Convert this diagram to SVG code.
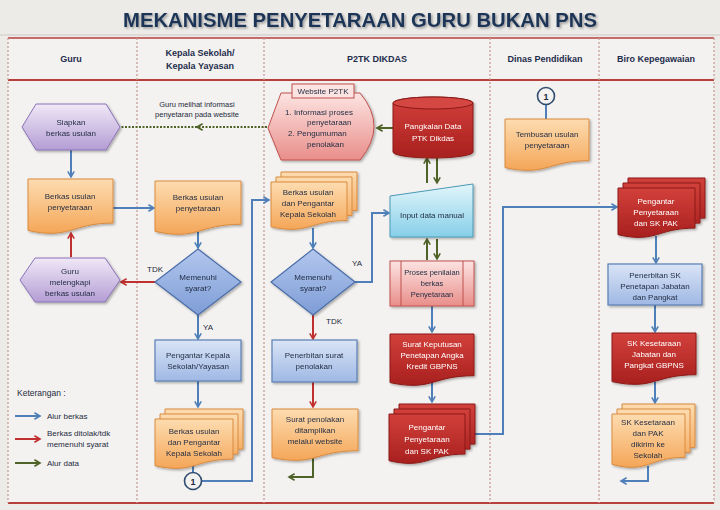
<svg xmlns="http://www.w3.org/2000/svg" width="720" height="510" viewBox="0 0 720 510">
<defs>
<style>
.t{font-family:"Liberation Sans",Arial,sans-serif;font-size:8px;fill:#1f2a40;text-anchor:middle}
.s{text-anchor:start}
.w{fill:#ffffff}
.h{font-family:"Liberation Sans",Arial,sans-serif;font-size:9px;font-weight:bold;fill:#1f2d4d;text-anchor:middle}
.div{stroke:#c79f96;stroke-width:1.3;stroke-dasharray:2 2;fill:none}
.org{fill:url(#gO);stroke:#d98a3e;stroke-width:1}
.pur{fill:url(#gP);stroke:#8b72b8;stroke-width:1}
.blu{fill:url(#gB);stroke:#5a7fb5;stroke-width:1.2}
.dia{fill:url(#gD);stroke:#4a6da8;stroke-width:1.2}
.pnk{fill:url(#gK);stroke:#c0504d;stroke-width:1}
.red{fill:url(#gR);stroke:#8a1a18;stroke-width:1}
.cyn{fill:url(#gC);stroke:#4a98b6;stroke-width:1}
.cb{fill:none;stroke:#4f7fb8;stroke-width:2}
.cr{fill:none;stroke:#c0302e;stroke-width:2}
.cg{fill:none;stroke:#4f6228;stroke-width:2}
</style>
<linearGradient id="gO" x1="0" y1="0" x2="0" y2="1"><stop offset="0" stop-color="#fddcb0"/><stop offset="1" stop-color="#f4a658"/></linearGradient>
<linearGradient id="gP" x1="0" y1="0" x2="0" y2="1"><stop offset="0" stop-color="#f0e8f7"/><stop offset="1" stop-color="#b49dd4"/></linearGradient>
<linearGradient id="gB" x1="0" y1="0" x2="0" y2="1"><stop offset="0" stop-color="#d9e4f6"/><stop offset="1" stop-color="#9fb8e4"/></linearGradient>
<linearGradient id="gD" x1="0" y1="0" x2="0" y2="1"><stop offset="0" stop-color="#b3c7ee"/><stop offset="1" stop-color="#7e9dd6"/></linearGradient>
<linearGradient id="gK" x1="0" y1="0" x2="0" y2="1"><stop offset="0" stop-color="#fce4e2"/><stop offset="1" stop-color="#e98e8a"/></linearGradient>
<linearGradient id="gR" x1="0" y1="0" x2="0" y2="1"><stop offset="0" stop-color="#d2403b"/><stop offset="1" stop-color="#a8201e"/></linearGradient>
<linearGradient id="gC" x1="0" y1="0" x2="0" y2="1"><stop offset="0" stop-color="#e2f5fb"/><stop offset="1" stop-color="#86cfe8"/></linearGradient>
<filter id="sh" x="-15%" y="-15%" width="140%" height="145%"><feDropShadow dx="1.5" dy="1.5" stdDeviation="1.2" flood-color="#000" flood-opacity="0.3"/></filter>
<filter id="tsh" x="-5%" y="-20%" width="110%" height="160%"><feDropShadow dx="1.5" dy="1.5" stdDeviation="1" flood-color="#000" flood-opacity="0.35"/></filter>
<marker id="ab" viewBox="0 0 10 10" refX="8" refY="5" markerWidth="8" markerHeight="8" orient="auto" markerUnits="userSpaceOnUse"><path d="M1,1 L8,5 L1,9" fill="none" stroke="#4f7fb8" stroke-width="2"/></marker>
<marker id="ar" viewBox="0 0 10 10" refX="8" refY="5" markerWidth="8" markerHeight="8" orient="auto" markerUnits="userSpaceOnUse"><path d="M1,1 L8,5 L1,9" fill="none" stroke="#c0302e" stroke-width="2"/></marker>
<marker id="ag" viewBox="0 0 10 10" refX="8" refY="5" markerWidth="8" markerHeight="8" orient="auto" markerUnits="userSpaceOnUse"><path d="M1,1 L8,5 L1,9" fill="none" stroke="#4f6228" stroke-width="2"/></marker>
</defs>

<rect x="0" y="0" width="720" height="510" fill="#ecebe8"/>
<rect x="8" y="38" width="706" height="465" fill="#f3f2f0"/>

<text x="360" y="27" class="h" style="font-size:21px;fill:#1d3557" textLength="474" lengthAdjust="spacingAndGlyphs" filter="url(#tsh)">MEKANISME PENYETARAAN GURU BUKAN PNS</text>

<g id="lanes">
<line x1="0" y1="35" x2="720" y2="35" stroke="#cfcac6" stroke-width="1"/>
<line x1="8" y1="38" x2="714" y2="38" stroke="#b5403c" stroke-width="1.5"/>
<line x1="8" y1="80" x2="714" y2="80" stroke="#b5403c" stroke-width="2"/>
<line x1="8" y1="503" x2="714" y2="503" stroke="#b5403c" stroke-width="2"/>
<line class="div" x1="8" y1="38" x2="8" y2="503"/>
<line class="div" x1="137" y1="38" x2="137" y2="503"/>
<line class="div" x1="264" y1="38" x2="264" y2="503"/>
<line class="div" x1="490" y1="38" x2="490" y2="503"/>
<line class="div" x1="599" y1="38" x2="599" y2="503"/>
<line class="div" x1="714" y1="38" x2="714" y2="503"/>
<text class="h" x="71" y="62">Guru</text>
<text class="h" x="200" y="56">Kepala Sekolah/</text>
<text class="h" x="200" y="69">Kepala Yayasan</text>
<text class="h" x="377" y="62">P2TK DIKDAS</text>
<text class="h" x="545" y="62">Dinas Pendidikan</text>
<text class="h" x="656" y="62">Biro Kepegawaian</text>
</g>

<g id="connectors">
<path class="cg" d="M267,127 L197,127 L121,127" stroke-width="1.6" stroke-dasharray="2 1.5" marker-mid="url(#ag)"/>
<path class="cb" d="M71,150 V177" marker-end="url(#ab)"/>
<path class="cb" d="M113,208 H154" marker-end="url(#ab)"/>
<path class="cr" d="M71,257 V233" marker-end="url(#ar)"/>
<path class="cr" d="M156,282 H121" marker-end="url(#ar)"/>
<path class="cb" d="M198,232 V248" marker-end="url(#ab)"/>
<path class="cb" d="M198,315 V339" marker-end="url(#ab)"/>
<path class="cb" d="M198,381 V407" marker-end="url(#ab)"/>
<path class="cb" d="M193,465 V472"/>
<path class="cb" d="M202,481 H252 V200 H269" marker-end="url(#ab)"/>
<path class="cb" d="M313,228 V248" marker-end="url(#ab)"/>
<path class="cb" d="M355,282 H372 V213 H389" marker-end="url(#ab)"/>
<path class="cr" d="M313,315 V339" marker-end="url(#ar)"/>
<path class="cr" d="M313,382 V407" marker-end="url(#ar)"/>
<path class="cg" d="M313,458 V477 H289" marker-end="url(#ag)"/>
<path class="cg" d="M393,128 H377" marker-end="url(#ag)"/>
<path class="cg" d="M427,183 V158" marker-end="url(#ag)"/>
<path class="cg" d="M437,158 V183" marker-end="url(#ag)"/>
<path class="cg" d="M427,260 V239" marker-end="url(#ag)"/>
<path class="cg" d="M437,239 V259" marker-end="url(#ag)"/>
<path class="cb" d="M432,306 V332" marker-end="url(#ab)"/>
<path class="cb" d="M432,382 V402" marker-end="url(#ab)"/>
<path class="cb" d="M475,434 H503 V207 H617" marker-end="url(#ab)"/>
<path class="cb" d="M546,105 V119"/>
<path class="cb" d="M656,236 V263" marker-end="url(#ab)"/>
<path class="cb" d="M655,305 V332" marker-end="url(#ab)"/>
<path class="cb" d="M655,382 V403" marker-end="url(#ab)"/>
<path class="cb" d="M648,466 V481 H621" marker-end="url(#ab)"/>
</g>

<g id="edge-labels">
<text class="t" x="197" y="107" style="font-size:7.5px">Guru melihat informasi</text>
<text class="t" x="197" y="117" style="font-size:7.5px">penyetaran pada  website</text>
<text class="t s" x="147" y="272">TDK</text>
<text class="t s" x="203" y="330">YA</text>
<text class="t s" x="352" y="266">YA</text>
<text class="t s" x="326" y="324">TDK</text>
</g>

<g id="siapkan" filter="url(#sh)">
<polygon class="pur" points="22,127 36,104 106,104 120,127 106,150 36,150"/>
<text class="t" x="71" y="125">Siapkan</text>
<text class="t" x="71" y="136">berkas usulan</text>
</g>

<g id="berkas-guru" filter="url(#sh)">
<path class="org" transform="translate(28,179)" d="M0,0 h85 v44.1 c-42.5,0 -42.5,16.8 -85,7.3 z"/>
<text class="t" x="70" y="199">Berkas usulan</text>
<text class="t" x="70" y="210">penyetaraan</text>
</g>

<g id="guru-melengkapi" filter="url(#sh)">
<polygon class="pur" points="20,280 35,258 105,258 120,280 105,302 35,302"/>
<text class="t" x="70" y="274">Guru</text>
<text class="t" x="70" y="285">melengkapi</text>
<text class="t" x="70" y="296">berkas usulan</text>
</g>

<g id="legend">
<text class="t s" x="17" y="396" style="font-size:8.5px">Keterangan :</text>
<path class="cb" d="M15,416 H40" marker-end="url(#ab)"/>
<text class="t s" x="47" y="419">Alur berkas</text>
<path class="cr" d="M15,439 H40" marker-end="url(#ar)"/>
<text class="t s" x="47" y="436">Berkas ditolak/tdk</text>
<text class="t s" x="47" y="447">memenuhi syarat</text>
<path class="cg" d="M15,463 H40" marker-end="url(#ag)"/>
<text class="t s" x="47" y="466">Alur data</text>
</g>

<g id="berkas-kepala" filter="url(#sh)">
<path class="org" transform="translate(155,181)" d="M0,0 h86 v43.3 c-43,0 -43,16.5 -86,7.1 z"/>
<text class="t" x="198" y="200">Berkas usulan</text>
<text class="t" x="198" y="211">penyetaraan</text>
</g>

<g id="memenuhi-kepala" filter="url(#sh)">
<polygon class="dia" points="198,249 241,282 198,315 155,282"/>
<text class="t" x="198" y="280">Memenuhi</text>
<text class="t" x="198" y="291">syarat?</text>
</g>

<g id="pengantar-kepala" filter="url(#sh)">
<rect class="blu" x="155" y="340" width="86" height="41"/>
<text class="t" x="198" y="358">Pengantar Kepala</text>
<text class="t" x="198" y="369">Sekolah/Yayasan</text>
</g>

<g id="berkas-pengantar-kepala" filter="url(#sh)">
<path class="org" transform="translate(165,409)" d="M0,0 h78 v40.1 c-39,0 -39,15.3 -78,6.6 z"/>
<path class="org" transform="translate(160,414)" d="M0,0 h78 v40.1 c-39,0 -39,15.3 -78,6.6 z"/>
<path class="org" transform="translate(155,419)" d="M0,0 h78 v40.1 c-39,0 -39,15.3 -78,6.6 z"/>
<text class="t" x="194" y="434">Berkas usulan</text>
<text class="t" x="194" y="445">dan Pengantar</text>
<text class="t" x="194" y="456">Kepala Sekolah</text>
</g>

<g id="konektor-1a">
<circle cx="193" cy="481" r="8.5" fill="#f3f2f0" stroke="#2f4b6e" stroke-width="1.6"/>
<text class="t" x="193" y="484.5" style="font-size:9px;font-weight:bold">1</text>
</g>

<g id="website-p2tk" filter="url(#sh)">
<path class="pnk" d="M268,128 L281,93 H360 Q388,126 360,160 H281 Z"/>
<rect x="292" y="84" width="62" height="14" fill="#fbe3e1" stroke="#c0504d"/>
<text class="t" x="323" y="94">Website P2TK</text>
<text class="t s" x="285" y="115">1. Informasi proses</text>
<text class="t s" x="307" y="125">penyetaraan</text>
<text class="t s" x="288" y="136">2. Pengumuman</text>
<text class="t s" x="307" y="147">penolakan</text>
</g>

<g id="pangkalan-data" filter="url(#sh)">
<path class="red" d="M393,103 A40,6 0 0 1 473,103 V152 A40,6 0 0 1 393,152 Z"/>
<ellipse cx="433" cy="103" rx="40" ry="6" fill="#d44642" stroke="#8a1a18"/>
<text class="t w" x="433" y="129">Pangkalan Data</text>
<text class="t w" x="433" y="141">PTK  Dikdas</text>
</g>

<g id="berkas-pengantar-p2tk" filter="url(#sh)">
<path class="org" transform="translate(281,172)" d="M0,0 h76 v38.5 c-38,0 -38,14.6 -76,6.3 z"/>
<path class="org" transform="translate(276,177)" d="M0,0 h76 v38.5 c-38,0 -38,14.6 -76,6.3 z"/>
<path class="org" transform="translate(271,182)" d="M0,0 h76 v38.5 c-38,0 -38,14.6 -76,6.3 z"/>
<text class="t" x="308" y="195">Berkas usulan</text>
<text class="t" x="308" y="206">dan Pengantar</text>
<text class="t" x="308" y="217">Kepala Sekolah</text>
</g>

<g id="input-data" filter="url(#sh)">
<polygon class="cyn" points="390,196 473,184 473,237 390,237"/>
<text class="t" x="432" y="218">Input data manual</text>
</g>

<g id="memenuhi-p2tk" filter="url(#sh)">
<polygon class="dia" points="313,249 355,282 313,315 271,282"/>
<text class="t" x="313" y="280">Memenuhi</text>
<text class="t" x="313" y="291">syarat?</text>
</g>

<g id="proses-penilaian" filter="url(#sh)">
<rect class="pnk" x="390" y="261" width="84" height="45"/>
<line x1="401" y1="261" x2="401" y2="306" stroke="#c0504d"/>
<line x1="463" y1="261" x2="463" y2="306" stroke="#c0504d"/>
<text class="t" x="432" y="275" style="font-size:7.5px">Proses penilaian</text>
<text class="t" x="432" y="286" style="font-size:7.5px">berkas</text>
<text class="t" x="432" y="297" style="font-size:7.5px">Penyetaraan</text>
</g>

<g id="penerbitan-penolakan" filter="url(#sh)">
<rect class="blu" x="272" y="340" width="85" height="42"/>
<text class="t" x="314" y="358">Penerbitan surat</text>
<text class="t" x="314" y="369">penolakan</text>
</g>

<g id="surat-penolakan" filter="url(#sh)">
<path class="org" transform="translate(272,409)" d="M0,0 h86 v41.7 c-43,0 -43,15.9 -86,6.9 z"/>
<text class="t" x="315" y="422">Surat penolakan</text>
<text class="t" x="315" y="433">ditampilkan</text>
<text class="t" x="315" y="444">melalui website</text>
</g>

<g id="sk-angka-kredit" filter="url(#sh)">
<path class="red" transform="translate(390,334)" d="M0,0 h84 v41.7 c-42,0 -42,15.9 -84,6.9 z"/>
<text class="t w" x="432" y="347">Surat Keputusan</text>
<text class="t w" x="432" y="358">Penetapan Angka</text>
<text class="t w" x="432" y="369">Kredit GBPNS</text>
</g>

<g id="pengantar-p2tk" filter="url(#sh)">
<path class="red" transform="translate(399,404)" d="M0,0 h76 v40.1 c-38,0 -38,15.3 -76,6.6 z"/>
<path class="red" transform="translate(394,409)" d="M0,0 h76 v40.1 c-38,0 -38,15.3 -76,6.6 z"/>
<path class="red" transform="translate(389,414)" d="M0,0 h76 v40.1 c-38,0 -38,15.3 -76,6.6 z"/>
<text class="t w" x="427" y="430">Pengantar</text>
<text class="t w" x="427" y="442">Penyetaraan</text>
<text class="t w" x="427" y="454">dan SK PAK</text>
</g>

<g id="konektor-1b">
<circle cx="546" cy="96" r="8.5" fill="#f3f2f0" stroke="#2f4b6e" stroke-width="1.6"/>
<text class="t" x="546" y="99.5" style="font-size:9px;font-weight:bold">1</text>
</g>

<g id="tembusan" filter="url(#sh)">
<path class="org" transform="translate(505,119)" d="M0,0 h84 v41.7 c-42,0 -42,15.9 -84,6.9 z"/>
<text class="t" x="547" y="137">Tembusan usulan</text>
<text class="t" x="547" y="148">penyetaraan</text>
</g>

<g id="pengantar-biro" filter="url(#sh)">
<path class="red" transform="translate(628,178)" d="M0,0 h77 v40.1 c-38.5,0 -38.5,15.3 -77,6.6 z"/>
<path class="red" transform="translate(623,183)" d="M0,0 h77 v40.1 c-38.5,0 -38.5,15.3 -77,6.6 z"/>
<path class="red" transform="translate(618,188)" d="M0,0 h77 v40.1 c-38.5,0 -38.5,15.3 -77,6.6 z"/>
<text class="t w" x="656" y="204">Pengantar</text>
<text class="t w" x="656" y="215">Penyetaraan</text>
<text class="t w" x="656" y="226">dan SK PAK</text>
</g>

<g id="penerbitan-sk" filter="url(#sh)">
<rect class="blu" x="608" y="264" width="94" height="41"/>
<text class="t" x="655" y="278">Penerbitan SK</text>
<text class="t" x="655" y="289">Penetapan Jabatan</text>
<text class="t" x="655" y="300">dan Pangkat</text>
</g>

<g id="sk-kesetaraan-jabatan" filter="url(#sh)">
<path class="red" transform="translate(612,333)" d="M0,0 h84 v41.7 c-42,0 -42,15.9 -84,6.9 z"/>
<text class="t w" x="654" y="346">SK Kesetaraan</text>
<text class="t w" x="654" y="357">Jabatan dan</text>
<text class="t w" x="654" y="368">Pangkat GBPNS</text>
</g>

<g id="sk-kesetaraan-pak" filter="url(#sh)">
<path class="org" transform="translate(622,404)" d="M0,0 h73 v43.3 c-36.5,0 -36.5,16.5 -73,7.1 z"/>
<path class="org" transform="translate(617,409)" d="M0,0 h73 v43.3 c-36.5,0 -36.5,16.5 -73,7.1 z"/>
<path class="org" transform="translate(612,414)" d="M0,0 h73 v43.3 c-36.5,0 -36.5,16.5 -73,7.1 z"/>
<text class="t" x="648" y="425">SK Kesetaraan</text>
<text class="t" x="648" y="436">dan PAK</text>
<text class="t" x="648" y="447">dikirim ke</text>
<text class="t" x="648" y="458">Sekolah</text>
</g>
</svg>
